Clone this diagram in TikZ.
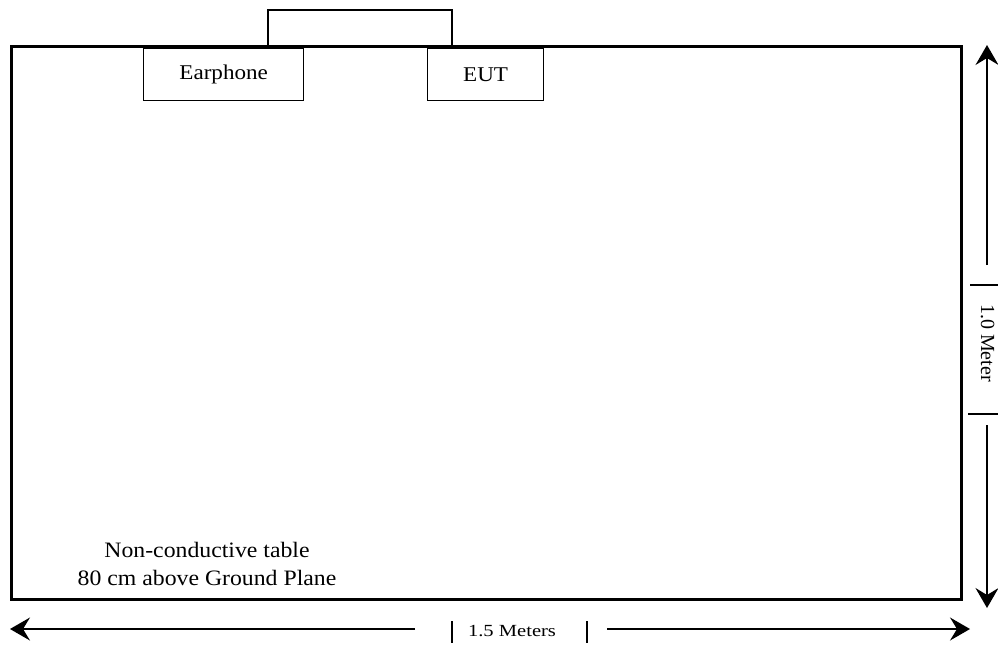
\documentclass[tikz,border=0pt]{standalone}
\usepackage{fontspec}
\setmainfont{Liberation Serif}
\usetikzlibrary{arrows.meta}
\begin{document}
\begin{tikzpicture}[x=1pt,y=1pt,
  lbl/.style={font=\fontsize{22}{28}\selectfont, inner sep=0pt},
  devbox/.style={draw, line width=1.3pt, minimum height=52pt, inner sep=0pt},
  devtext/.style={font=\fontsize{21}{26}\selectfont, xscale=1.1, inner sep=0pt},
  thin/.style={line width=1.3pt},
  dimarrow/.style={line width=1.3pt, -{Stealth[length=20pt,width=23pt,inset=7pt]}}
]
\useasboundingbox (0,0) rectangle (998,-646);
% table
\node[draw, line width=3pt, minimum width=950pt, minimum height=553pt, inner sep=0pt, anchor=north west] (table) at (10,-45) {};
% devices
\node[devbox, minimum width=160pt, anchor=north west] (ear) at (143,-48) {};
\node[devtext] (eartxt) at (ear.center) {Earphone};
\node[devbox, minimum width=116pt, anchor=north west] (eut) at (427,-48) {};
\node[devtext] (euttxt) at (eut.center) {EUT};
% cable
\coordinate (c1) at (268,-45);
\coordinate (c2) at (452,-45);
\draw[thin] (c1) -- (268,-10) -- (452,-10) -- (c2);
% label
\node[lbl, align=center, xscale=1.08] (txt) at (207,-564) {Non-conductive table\\80 cm above Ground Plane};
% vertical dimension
\coordinate (vt1) at (987,-265);
\coordinate (vtop) at (987,-45);
\coordinate (vb1) at (987,-425);
\coordinate (vbot) at (987,-608);
\draw[dimarrow] (vt1) -- (vtop);
\draw[dimarrow] (vb1) -- (vbot);
\draw[thin] (970,-285) -- (998,-285);
\draw[thin] (968,-414) -- (998,-414);
\node[font=\fontsize{20}{24}\selectfont, inner sep=0pt, rotate=-90] (vlab) at (987.5,-343) {1.0 Meter};
% horizontal dimension
\coordinate (hl1) at (415,-629);
\coordinate (hleft) at (10,-629);
\coordinate (hr1) at (607,-629);
\coordinate (hright) at (970,-629);
\draw[dimarrow] (hl1) -- (hleft);
\draw[dimarrow] (hr1) -- (hright);
\draw[thin] (452,-621) -- (452,-643);
\draw[thin] (587,-621) -- (587,-643);
\node[font=\fontsize{17}{20}\selectfont, inner sep=0pt, xscale=1.21, anchor=base] (hlab) at (512,-636) {1.5 Meters};
\end{tikzpicture}
\end{document}
